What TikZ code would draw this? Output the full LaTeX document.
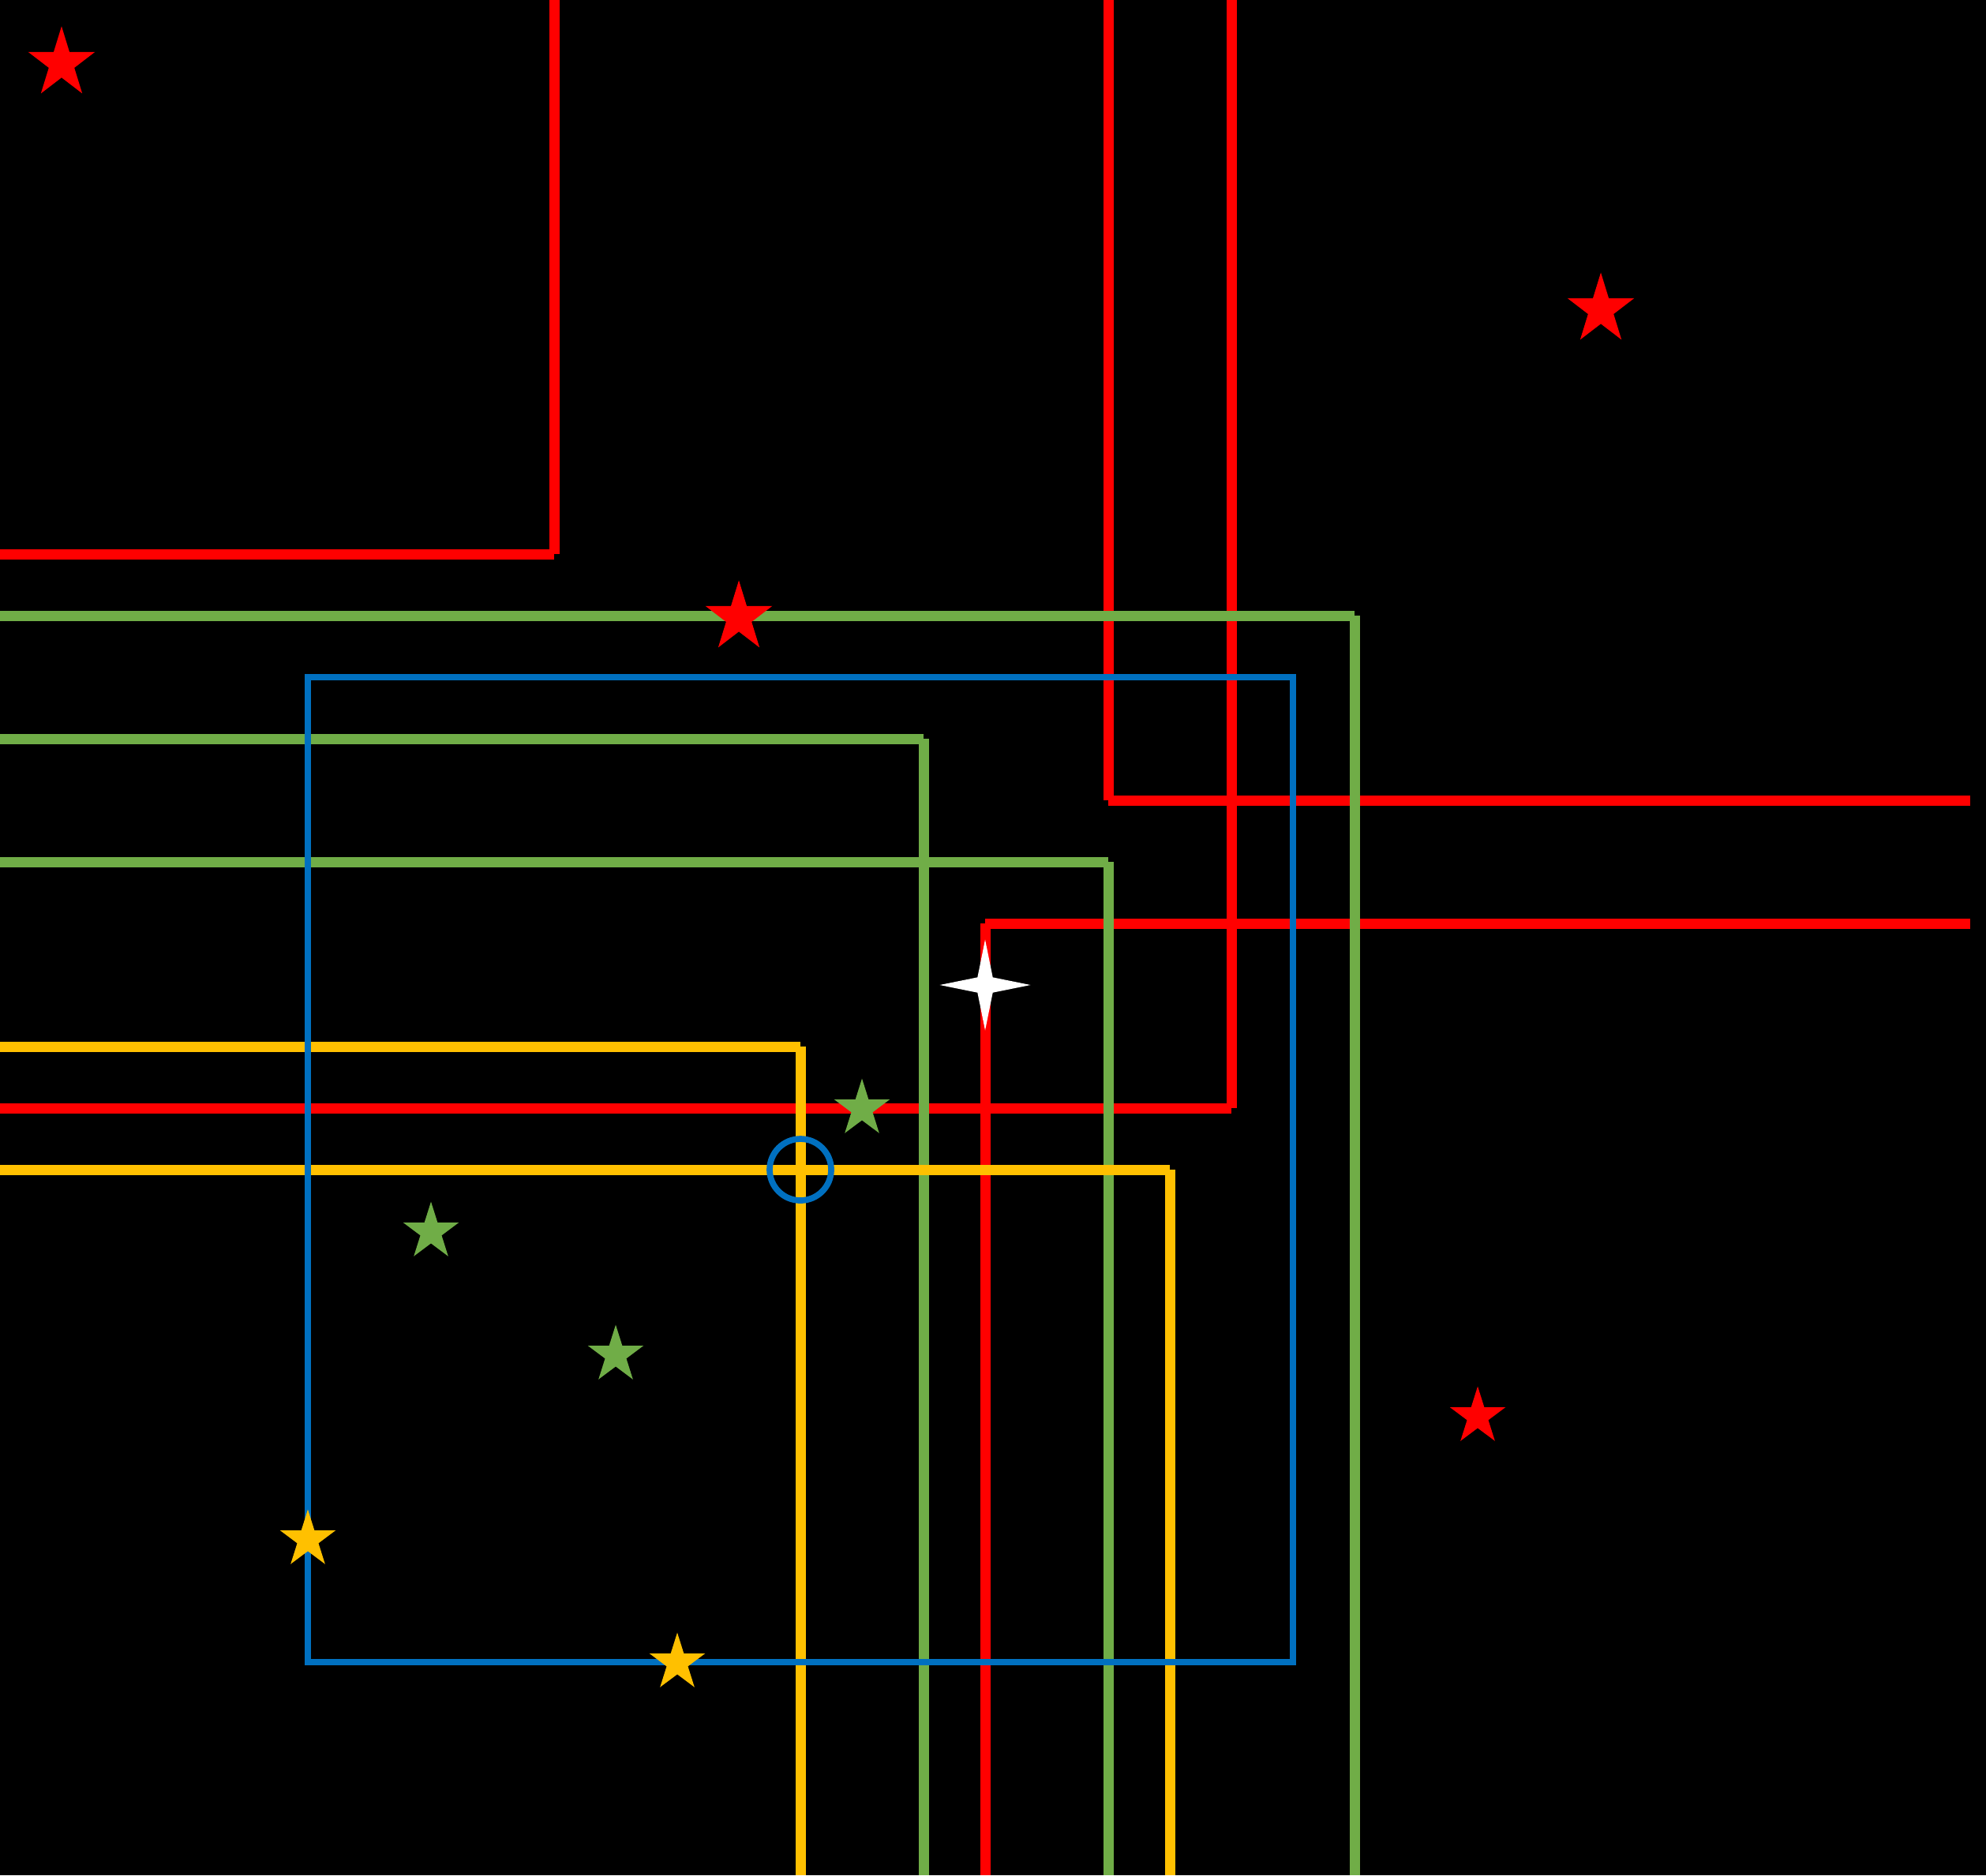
\documentclass[tikz,border=0pt]{standalone}
\usetikzlibrary{shapes.geometric}
\definecolor{cred}{RGB}{255,0,0}
\definecolor{cgreen}{RGB}{112,173,71}
\definecolor{cyellow}{RGB}{255,192,0}
\definecolor{cblue}{RGB}{0,112,192}
\begin{document}
\begin{tikzpicture}[x=1cm,y=-1cm,line cap=butt,
  wire/.style={line width=0.1667cm},
  redw/.style={wire,draw=cred},
  greenw/.style={wire,draw=cgreen},
  yelloww/.style={wire,draw=cyellow},
  bluew/.style={line width=0.099cm,draw=cblue},
  bigstar/.style={xscale=0.5705,yscale=0.6026},
  smallstar/.style={xscale=0.4756,yscale=0.49},
  fivestar/.pic={\fill[pic actions] (-90:1) \foreach \a/\r in {-54/0.382,-18/1,18/0.382,54/1,90/0.382,126/1,162/0.382,198/1,234/0.382} { -- (\a:\r) } -- cycle;},
  sparkle/.style={star,star points=4,star point ratio=4.2,minimum size=1.474cm,inner sep=0pt,outer sep=0pt,draw=none,fill=white}]
\fill[black] (0,0) rectangle (32.256,30.462);
\useasboundingbox (0,0) rectangle (32.256,30.462);
\def\B{30.462}
% red
\draw[redw] (0,9) -- (9,9);
\draw[redw] (9,0) -- (9,9);
\draw[redw] (18,0) -- (18,13);
\draw[redw] (18,13) -- (32,13);
\draw[redw] (20,0) -- (20,18);
\draw[redw] (0,18) -- (20,18);
\draw[redw] (16,15) -- (32,15);
\draw[redw] (16,15) -- (16,\B);
% green
\draw[greenw] (0,10) -- (22,10);
\draw[greenw] (22,10) -- (22,\B);
\draw[greenw] (0,12) -- (15,12);
\draw[greenw] (15,12) -- (15,\B);
\draw[greenw] (0,14) -- (18,14);
\draw[greenw] (18,14) -- (18,\B);
% yellow
\draw[yelloww] (0,17) -- (13,17);
\draw[yelloww] (13,17) -- (13,\B);
\draw[yelloww] (0,19) -- (19,19);
\draw[yelloww] (19,19) -- (19,\B);
% blue
\draw[bluew] (5,11) rectangle (21,27);
\draw[bluew] (13,19) circle (0.5);
% stars
\pic[bigstar,fill=cred] (s1) at (1,1.03) {fivestar};
\pic[bigstar,fill=cred] (s2) at (26,5.03) {fivestar};
\pic[bigstar,fill=cred] (s3) at (12,10.03) {fivestar};
\pic[smallstar,fill=cred] (s4) at (24,23.01) {fivestar};
\pic[smallstar,fill=cgreen] (s5) at (14,18.01) {fivestar};
\pic[smallstar,fill=cgreen] (s6) at (7,20.01) {fivestar};
\pic[smallstar,fill=cgreen] (s7) at (10,22.01) {fivestar};
\pic[smallstar,fill=cyellow] (s8) at (5,25.01) {fivestar};
\pic[smallstar,fill=cyellow] (s9) at (11,27.01) {fivestar};
\node[sparkle] (w) at (16,16) {};
\end{tikzpicture}
\end{document}
